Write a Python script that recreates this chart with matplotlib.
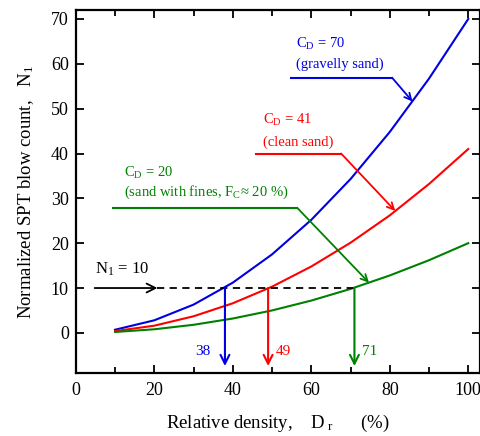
import matplotlib
matplotlib.use("Agg")
import matplotlib.pyplot as plt
from matplotlib.ticker import MultipleLocator

plt.rcParams['font.family'] = ['Liberation Serif', 'DejaVu Serif']
plt.rcParams['mathtext.fontset'] = 'custom'
plt.rcParams['mathtext.rm'] = 'Liberation Serif'
plt.rcParams['mathtext.it'] = 'Liberation Serif:italic'

# Data
dr = [10, 20, 30, 40, 50, 60, 70, 80, 90, 100]
n_gravelly = [0.7, 2.8, 6.3, 11.2, 17.5, 25.2, 34.3, 44.8, 56.7, 70.0]
n_clean = [0.4, 1.6, 3.7, 6.6, 10.3, 14.8, 20.1, 26.2, 33.2, 41.0]
n_fines = [0.2, 0.8, 1.8, 3.2, 5.0, 7.2, 9.8, 12.8, 16.2, 20.0]
dr_results = [38, 49, 71]
n1_target = 10

BLUE = '#0000e0'
RED = '#ff0000'
GREEN = '#008000'

fig = plt.figure(figsize=(4.8, 4.36), dpi=100)
ax = fig.add_axes([0.158, 0.144, 0.842, 0.833])

ax.plot(dr, n_gravelly, color=BLUE, lw=1.5)
ax.plot(dr, n_clean, color=RED, lw=1.5)
ax.plot(dr, n_fines, color=GREEN, lw=1.5)

# N1 = 10 line
ax.annotate('', xy=(20.8, n1_target), xytext=(4.8, n1_target),
            arrowprops=dict(arrowstyle='->', color='black', lw=1.3, mutation_scale=16,
                            shrinkA=0, shrinkB=0))
ax.plot([20.8, 70.6], [n1_target, n1_target], color='black', lw=1.3, ls=(0, (4, 3)))
ax.text(4.8, 13.3, r'N$_{\rm 1}$ = 10', fontsize=12, color='black')

# Vertical arrows
for x, c, lx in zip(dr_results, [BLUE, RED, GREEN], [30.4, 50.9, 73.0]):
    ax.annotate('', xy=(x, -7.4), xytext=(x, n1_target),
                arrowprops=dict(arrowstyle='->', color=c, lw=1.5, mutation_scale=16,
                                shrinkA=0, shrinkB=0))
    ax.text(lx, -4.2, str(x), color=c, fontsize=11, va='center')

# Leader lines with labels
def leader(x0, x1, y, tip, c):
    ax.plot([x0, x1], [y, y], color=c, lw=1.5)
    ax.annotate('', xy=tip, xytext=(x1, y),
                arrowprops=dict(arrowstyle='->', color=c, lw=1.3, mutation_scale=12,
                                shrinkA=0, shrinkB=0))

leader(54.8, 80.6, 56.9, (85.8, 51.6), BLUE)
ax.text(56.0, 64.4, r'C$_{\rm D}$ = 70', color=BLUE, fontsize=10.5, va='center')
ax.text(56.0, 60.0, '(gravelly sand)', color=BLUE, fontsize=10.5, va='center')

leader(45.9, 67.6, 40.0, (81.4, 27.2), RED)
ax.text(47.6, 47.4, r'C$_{\rm D}$ = 41', color=RED, fontsize=10.5, va='center')
ax.text(47.6, 42.6, '(clean sand)', color=RED, fontsize=10.5, va='center')

leader(9.5, 56.4, 27.9, (74.7, 11.2), GREEN)
ax.text(12.4, 35.7, r'C$_{\rm D}$ = 20', color=GREEN, fontsize=10.5, va='center')
ax.text(12.4, 31.3, r'(sand with fines, F$_{\rm C}$≈ 20 %)', color=GREEN, fontsize=10.5, va='center')

ax.set_xlim(0, 103)
ax.set_ylim(-9, 72)
ax.xaxis.set_major_locator(MultipleLocator(20))
ax.xaxis.set_minor_locator(MultipleLocator(10))
ax.yaxis.set_major_locator(MultipleLocator(10))
ax.tick_params(which='both', direction='in', top=True, right=True, labelsize=13, width=1.3)
ax.tick_params(which='major', length=6)
ax.tick_params(which='minor', length=4)
ax.tick_params(axis='x', pad=6)
ax.tick_params(axis='y', pad=5)
for s in ax.spines.values():
    s.set_linewidth(1.6)

ax.set_xlabel(r'Relative density,    D$_{\rm \ r}$      (%)', fontsize=13.5, labelpad=10)
ax.set_ylabel(r'Normalized SPT blow count,   N$_{\rm 1}$', fontsize=13.5, labelpad=11)

fig.savefig('out.png', dpi=100)
